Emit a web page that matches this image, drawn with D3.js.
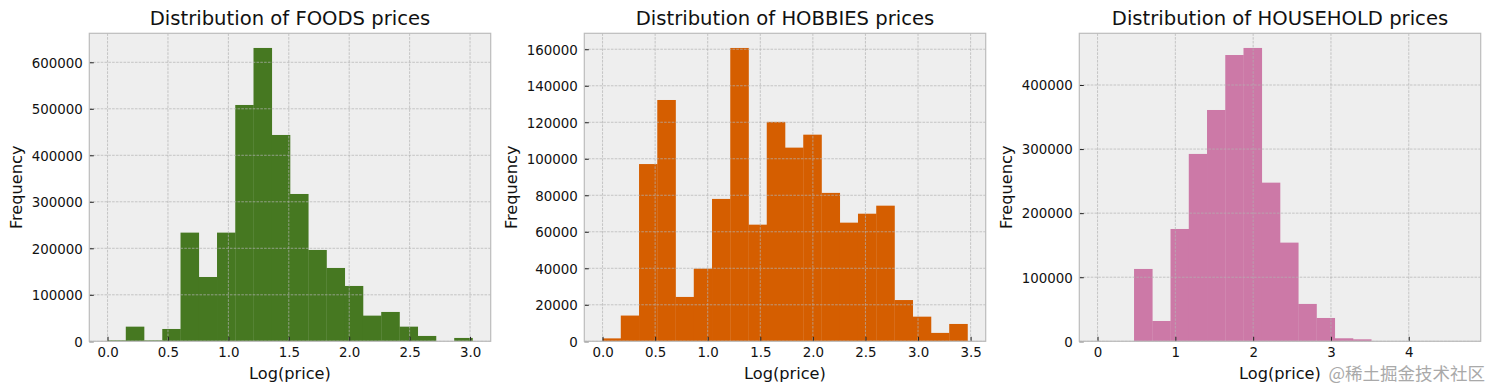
<!DOCTYPE html>
<html><head><meta charset="utf-8">
<script src="https://cdn.jsdelivr.net/npm/d3@7"></script>
<style>
html,body{margin:0;padding:0;background:#fff;}
svg{display:block;font-family:"DejaVu Sans",sans-serif;}
</style></head>
<body><svg id="chart" width="1490" height="390"></svg>
<script>
// ---- data ----
const categories = ["FOODS", "HOBBIES", "HOUSEHOLD"];
const colors = ["#467821", "#D55E00", "#CC79A7"];
const foodsRange = [0, 3.02];
const foodsCounts = [2000, 31500, 2000, 26500, 233700, 138300, 233700, 508200, 630800, 443700,
                     316800, 196400, 157700, 119000, 55200, 63100, 31500, 11500, 0, 7200];
const hobbiesRange = [0, 3.47];
const hobbiesCounts = [1600, 14100, 97100, 132200, 24300, 39800, 78000, 160700, 63900, 120200,
                       106100, 113200, 81300, 65000, 69900, 74300, 22600, 13500, 4600, 9500];
const householdRange = [0, 4.69];
const householdCounts = [0, 0, 112900, 31700, 175300, 292400, 361000, 446800, 457800, 247600,
                         154000, 58300, 36400, 4700, 3100, 0, 0, 0, 0, 0];
const foodsXTicks = [0, 0.5, 1.0, 1.5, 2.0, 2.5, 3.0];
const hobbiesXTicks = [0, 0.5, 1.0, 1.5, 2.0, 2.5, 3.0, 3.5];
const householdXTicks = [0, 1, 2, 3, 4];
const foodsYTicks = [0, 100000, 200000, 300000, 400000, 500000, 600000];
const hobbiesYTicks = [0, 20000, 40000, 60000, 80000, 100000, 120000, 140000, 160000];
const householdYTicks = [0, 100000, 200000, 300000, 400000];
const xFormats = [".1f", ".1f", "d"];
const xLabel = "Log(price)";
const yLabel = "Frequency";
const watermark = "@稀土掘金技术社区";

const panels = [
  {range: foodsRange, counts: foodsCounts, xt: foodsXTicks, yt: foodsYTicks},
  {range: hobbiesRange, counts: hobbiesCounts, xt: hobbiesXTicks, yt: hobbiesYTicks},
  {range: householdRange, counts: householdCounts, xt: householdXTicks, yt: householdYTicks}
];

// ---- layout ----
const svg = d3.select("#chart");
const lefts = [89.3, 584.3, 1079.3];
const pw = 401.4, plotTop = 33.3, ph = 308;

panels.forEach((p, i) => {
  const g = svg.append("g").attr("transform", `translate(${lefts[i]},${plotTop})`);
  const [lo, hi] = p.range;
  const n = p.counts.length;
  const bw = (hi - lo) / n;
  const bins = p.counts.map((c, k) => ({x0: lo + k * bw, x1: lo + (k + 1) * bw, c}));
  const pad = (hi - lo) * 0.05;
  const x = d3.scaleLinear().domain([lo - pad, hi + pad]).range([0, pw]);
  const ymax = d3.max(p.counts) * 1.05;
  const y = d3.scaleLinear().domain([0, ymax]).range([ph, 0]);

  g.append("rect").attr("width", pw).attr("height", ph).attr("fill", "#eeeeee");

  g.selectAll("rect.bar").data(bins).join("rect").attr("class", "bar")
    .attr("x", d => x(d.x0)).attr("width", d => x(d.x1) - x(d.x0) + 0.3)
    .attr("y", d => y(d.c)).attr("height", d => ph - y(d.c))
    .attr("fill", colors[i]);

  // grid (drawn above bars as in reference)
  const grid = g.append("g");
  grid.selectAll("line.gx").data(p.xt).join("line")
    .attr("x1", d => x(d)).attr("x2", d => x(d)).attr("y1", 0).attr("y2", ph)
    .attr("stroke", "#b2b2b2").attr("stroke-width", 0.7).attr("stroke-dasharray", "2.6,1.2");
  grid.selectAll("line.gy").data(p.yt).join("line")
    .attr("y1", d => y(d)).attr("y2", d => y(d)).attr("x1", 0).attr("x2", pw)
    .attr("stroke", "#b2b2b2").attr("stroke-width", 0.7).attr("stroke-dasharray", "2.6,1.2");

  // axes
  const xa = g.append("g").attr("transform", `translate(0,${ph})`)
    .call(d3.axisBottom(x).tickValues(p.xt).tickFormat(d3.format(xFormats[i])).tickSizeInner(-4.5).tickSizeOuter(0).tickPadding(6));
  const ya = g.append("g")
    .call(d3.axisLeft(y).tickValues(p.yt).tickFormat(d3.format("d")).tickSizeInner(-4.5).tickSizeOuter(0).tickPadding(6.5));
  [xa, ya].forEach(a => {
    a.select(".domain").remove();
    a.selectAll(".tick line").attr("stroke", "#222").attr("stroke-width", 1);
    a.selectAll(".tick text").attr("font-size", "13.4px").attr("fill", "#111")
      .attr("font-family", "DejaVu Sans");
  });
  ya.selectAll(".tick text").attr("dy", "0.36em");

  // frame
  g.append("rect").attr("width", pw).attr("height", ph).attr("fill", "none")
    .attr("stroke", "#bcbcbc").attr("stroke-width", 1.2);

  // titles / labels
  g.append("text").attr("x", pw / 2).attr("y", -8.5).attr("text-anchor", "middle")
    .attr("font-size", "19.6px").attr("fill", "#111").text(`Distribution of ${categories[i]} prices`);
  g.append("text").attr("x", pw / 2).attr("y", ph + 38).attr("text-anchor", "middle")
    .attr("font-size", "16.2px").attr("fill", "#111").text(xLabel);
  g.append("text").attr("transform", `translate(-67,${ph / 2}) rotate(-90)`)
    .attr("text-anchor", "middle").attr("font-size", "16.2px").attr("fill", "#111").text(yLabel);
});

svg.append("text").attr("x", 1485).attr("y", 380).attr("text-anchor", "end")
  .attr("font-family", "'Noto Sans CJK SC',sans-serif").attr("font-size", "17.5px")
  .attr("fill", "#a9a9a9").text(watermark);
</script></body></html>
